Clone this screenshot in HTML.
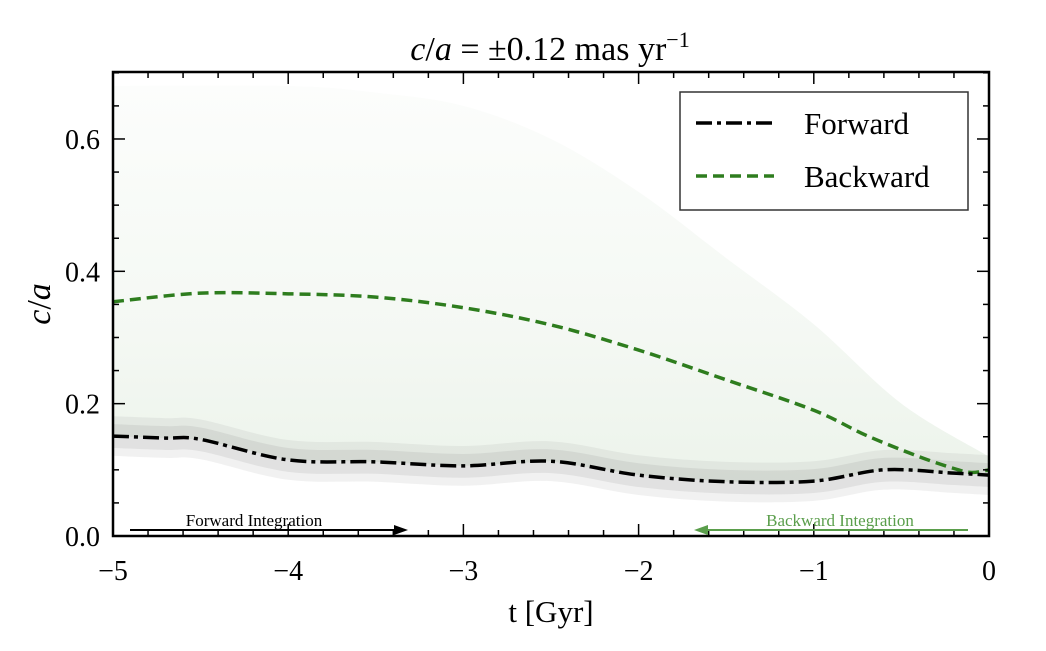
<!DOCTYPE html>
<html><head><meta charset="utf-8"><style>
body{margin:0;background:#fff;}
svg text{font-family:"Liberation Serif",serif;}
</style></head><body>
<svg id="chart" width="1046" height="646" viewBox="0 0 1046 646">
<defs>
<linearGradient id="haze" x1="0" y1="0" x2="0" y2="1">
<stop offset="0" stop-color="#2e7d1e" stop-opacity="0.015"/>
<stop offset="0.6" stop-color="#2e7d1e" stop-opacity="0.05"/>
<stop offset="1" stop-color="#2e7d1e" stop-opacity="0.09"/>
</linearGradient>
<clipPath id="clip"><rect x="113" y="72" width="876" height="464"/></clipPath>
</defs>
<g id="plot" clip-path="url(#clip)"></g>
<g id="axes"></g>
<text x="550" y="60" font-size="34" text-anchor="middle"><tspan font-style="italic">c</tspan>/<tspan font-style="italic">a</tspan> = ±0.12 mas yr<tspan dy="-13" font-size="22">−1</tspan></text>
<text x="551" y="622" font-size="31" text-anchor="middle">t [Gyr]</text>
<text transform="translate(50,304) rotate(-90)" font-size="34" text-anchor="middle"><tspan font-style="italic">c</tspan>/<tspan font-style="italic">a</tspan></text>
<g>
<rect x="680" y="92" width="288" height="118" fill="#fff" stroke="#333" stroke-width="1.5"/>
<line x1="696" y1="123" x2="774" y2="123" stroke="#000" stroke-width="3.5" stroke-dasharray="16,5,4,5"/>
<text x="804" y="134" font-size="31">Forward</text>
<line x1="696" y1="176" x2="774" y2="176" stroke="#2e7d1e" stroke-width="3.5" stroke-dasharray="11,6"/>
<text x="804" y="187" font-size="31">Backward</text>
</g>
<g>
<text x="254" y="526" font-size="17" text-anchor="middle">Forward Integration</text>
<line x1="130" y1="530" x2="396" y2="530" stroke="#000" stroke-width="2"/>
<polygon points="408,530 394,525 394,535" fill="#000"/>
</g>
<g>
<text x="840" y="526" font-size="17" text-anchor="middle" fill="#5a9e4b">Backward Integration</text>
<line x1="968" y1="530" x2="706" y2="530" stroke="#5a9e4b" stroke-width="2"/>
<polygon points="694,530 708,525 708,535" fill="#5a9e4b"/>
</g>
</svg>
<script>
const times=[-5,-4.7,-4.5,-4,-3.5,-3,-2.5,-2,-1.5,-1,-0.6,-0.2,0];
const forwardVals=[0.151,0.148,0.146,0.115,0.112,0.106,0.113,0.092,0.082,0.083,0.100,0.095,0.092];
const backTimes=[-5,-4.5,-4,-3.5,-3,-2.5,-2,-1.5,-1,-0.7,-0.4,-0.2,-0.1,0];
const backwardVals=[0.354,0.367,0.366,0.361,0.345,0.319,0.281,0.236,0.19,0.152,0.12,0.102,0.096,0.10];
const hazeTimes=[-5,-4,-3.5,-3,-2.5,-2,-1.5,-1,-0.5,0];
const hazeUpper=[0.68,0.68,0.67,0.65,0.60,0.52,0.42,0.32,0.20,0.12];
const xTicks=[-5,-4,-3,-2,-1,0];
const yTicks=[0,0.2,0.4,0.6];
const X0=113,X1=989,Y0=536,YS=661.7;
const sx=t=>X0+(t+5)/5*(X1-X0);
const sy=v=>Y0-v*YS;
const NS='http://www.w3.org/2000/svg';
function mk(tag,attrs,parent){const e=document.createElementNS(NS,tag);for(const k in attrs)e.setAttribute(k,attrs[k]);parent.appendChild(e);return e;}
function pts(ts,vs){return ts.map((t,i)=>[sx(t),sy(vs[i])]);}
function smoothP(p){let d='M'+p[0][0]+','+p[0][1];
for(let i=0;i<p.length-1;i++){const a=p[Math.max(0,i-1)],b=p[i],c=p[i+1],e=p[Math.min(p.length-1,i+2)];
d+=` C${b[0]+(c[0]-a[0])/6},${b[1]+(c[1]-a[1])/6} ${c[0]-(e[0]-b[0])/6},${c[1]-(e[1]-b[1])/6} ${c[0]},${c[1]}`;}return d;}
function smooth(ts,vs){return smoothP(pts(ts,vs));}
function band(ts,lo,hi){let d=smooth(ts,hi);const r=pts(ts,lo).reverse();d+=' L'+r[0][0]+','+r[0][1];
d+=smoothP(r).replace(/^M[^ C]+/,'');return d+' Z';}
const plot=document.getElementById('plot'),axes=document.getElementById('axes');
let hd=smooth(hazeTimes,hazeUpper);
const fwdRev=pts(times,forwardVals).reverse();
hd+=' '+fwdRev.map(p=>'L'+p[0]+','+p[1]).join(' ')+' Z';
const hz=mk('path',{d:hd,fill:'url(#haze)'},plot);


[[0.03,0.12],[0.018,0.15]].forEach(([w,op])=>{
const b=mk('path',{d:band(times,forwardVals.map(v=>v-w),forwardVals.map(v=>v+w)),fill:'#888','fill-opacity':op},plot);


});
const bw=mk('path',{d:smooth(backTimes,backwardVals),fill:'none',stroke:'#2e7d1e','stroke-width':3.5,'stroke-dasharray':'11,6'},plot);


const fw=mk('path',{d:smooth(times,forwardVals),fill:'none',stroke:'#000','stroke-width':3.5,'stroke-dasharray':'16,5,4,5'},plot);


const fr=mk('rect',{x:X0,y:72,width:X1-X0,height:Y0-72,fill:'none',stroke:'#000','stroke-width':2.5},axes);


for(let t=-5;t<=0.001;t+=0.2){const x=sx(t);const maj=Math.abs(t-Math.round(t))<1e-6;const L=maj?12:6;
mk('line',{x1:x,y1:Y0,x2:x,y2:Y0-L,stroke:'#000','stroke-width':1.5},axes);
mk('line',{x1:x,y1:72,x2:x,y2:72+L,stroke:'#000','stroke-width':1.5},axes);}
xTicks.forEach(t=>{const e=mk('text',{x:sx(t),y:580,'font-size':28,'text-anchor':'middle'},axes);e.textContent=(t<0?'−':'')+Math.abs(t);

});
for(let v=0;v<=0.701;v+=0.05){const y=sy(v);const maj=Math.abs(v/0.1-Math.round(v/0.1))<1e-6&&Math.round(v/0.1)%2==0;const L=maj?12:6;
mk('line',{x1:X0,y1:y,x2:X0+L,y2:y,stroke:'#000','stroke-width':1.5},axes);
mk('line',{x1:X1,y1:y,x2:X1-L,y2:y,stroke:'#000','stroke-width':1.5},axes);}
yTicks.forEach(v=>{const e=mk('text',{x:100,y:sy(v)+10,'font-size':28,'text-anchor':'end'},axes);e.textContent=v.toFixed(1);

});
</script>
</body></html>
